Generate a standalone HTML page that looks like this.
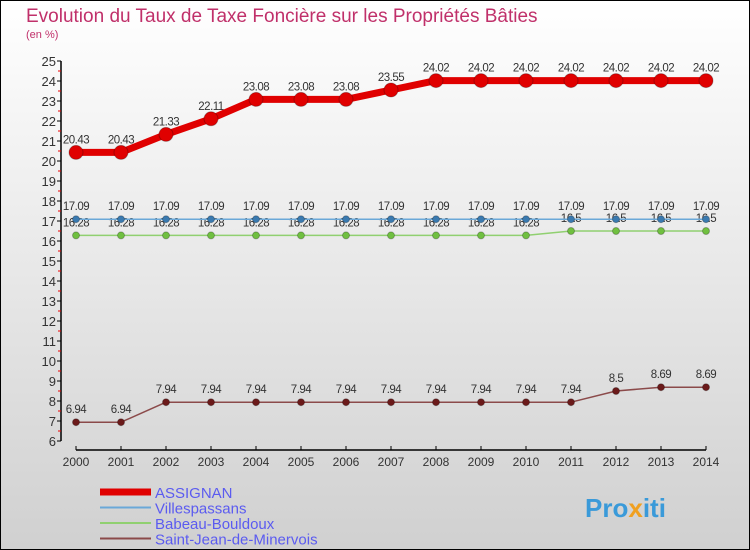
<!DOCTYPE html>
<html><head><meta charset="utf-8"><style>
body{margin:0;width:750px;height:550px;overflow:hidden}
svg{display:block;font-family:"Liberation Sans",sans-serif}
</style></head><body>
<svg id="c" width="750" height="550" xmlns="http://www.w3.org/2000/svg">
<defs><linearGradient id="bg" x1="0" y1="0" x2="0" y2="1"><stop offset="0" stop-color="#ffffff"/><stop offset="1" stop-color="#d0d0d0"/></linearGradient></defs>
<rect x="0.5" y="0.5" width="749" height="549" fill="url(#bg)" stroke="#000"/>
<text x="26" y="22" font-size="19" fill="#c0306a">Evolution du Taux de Taxe Foncière sur les Propriétés Bâties</text>
<text x="26" y="38" font-size="11" fill="#c0306a">(en %)</text>
<g id="axes"></g><g id="series"></g>
<g id="legend"></g>
<text x="585" y="517" font-size="26" font-weight="bold" fill="#3a9ad9">Pro<tspan fill="#f0a020">x</tspan>iti</text>
</svg>
<script>
const years=[2000,2001,2002,2003,2004,2005,2006,2007,2008,2009,2010,2011,2012,2013,2014];
const assignan=[20.43,20.43,21.33,22.11,23.08,23.08,23.08,23.55,24.02,24.02,24.02,24.02,24.02,24.02,24.02];
const villes=[17.09,17.09,17.09,17.09,17.09,17.09,17.09,17.09,17.09,17.09,17.09,17.09,17.09,17.09,17.09];
const babeau=[16.28,16.28,16.28,16.28,16.28,16.28,16.28,16.28,16.28,16.28,16.28,16.5,16.5,16.5,16.5];
const saintjean=[6.94,6.94,7.94,7.94,7.94,7.94,7.94,7.94,7.94,7.94,7.94,7.94,8.5,8.69,8.69];
const yTicks=[6,7,8,9,10,11,12,13,14,15,16,17,18,19,20,21,22,23,24,25];
const NS="http://www.w3.org/2000/svg";
const X=i=>76+i*45, Y=v=>441-(v-6)*20;
function mk(p,t,a){const e=document.createElementNS(NS,t);for(const k in a)e.setAttribute(k,a[k]);p.appendChild(e);return e;}
const ax=document.getElementById('axes');
let l=mk(ax,'line',{x1:61,y1:Y(25),x2:61,y2:Y(6),stroke:'#000','stroke-width':1.5});


l=mk(ax,'line',{x1:76,y1:450,x2:706,y2:450,stroke:'#000','stroke-width':1.5});


yTicks.forEach(v=>{
 mk(ax,'line',{x1:57,y1:Y(v),x2:61,y2:Y(v),stroke:'#000'});
 if(v<25) mk(ax,'line',{x1:58,y1:Y(v+0.5),x2:61,y2:Y(v+0.5),stroke:'#e00'});
 const t=mk(ax,'text',{x:56,y:Y(v)+5,'font-size':13,'text-anchor':'end',fill:'#333'});t.textContent=v;
 
 
});
years.forEach((y,i)=>{
 mk(ax,'line',{x1:X(i),y1:446,x2:X(i),y2:450,stroke:'#000'});
 const t=mk(ax,'text',{x:X(i),y:466,'font-size':12,'text-anchor':'middle',fill:'#333'});t.textContent=y;
 
 
});
const sg=document.getElementById('series');
function series(vals,color,w,r,name,dot){
 const g=mk(sg,'g',{});
 
 
 mk(g,'polyline',{points:vals.map((v,i)=>X(i)+','+Y(v)).join(' '),fill:'none',stroke:color,'stroke-width':w,'stroke-linejoin':'round'});
 vals.forEach((v,i)=>{
  const c=mk(g,'circle',{cx:X(i),cy:Y(v),r:r,fill:dot,stroke:'rgba(0,0,0,0.25)'});
  
  
  const t=mk(g,'text',{x:X(i),y:Y(v)-9,'font-size':11.5,'text-anchor':'middle',fill:'#333','letter-spacing':'-0.5'});t.textContent=v;
  
  
 });
}
series(saintjean,'#8b4a4a',1.5,3.5,'saint-jean-series','#6b1a1a');
series(babeau,'#90d070',1.5,3.5,'babeau-series','#70c040');
series(villes,'#6aa8d8',1.5,3.5,'villespassans-series','#3a7ab0');
series(assignan,'#e00000',7,7,'assignan-series','#e00000');
const lg=document.getElementById('legend');
const names=['ASSIGNAN','Villespassans','Babeau-Bouldoux','Saint-Jean-de-Minervois'];
const cols=['#e00000','#6aa8d8','#90d070','#8b4a4a'];
names.forEach((n,i)=>{
 const y=492+i*15.5;
 const g=mk(lg,'g',{});
 
 
 mk(g,'line',{x1:100,y1:y,x2:151,y2:y,stroke:cols[i],'stroke-width':i==0?7:2});
 const t=mk(g,'text',{x:155,y:y+6,'font-size':15,fill:'#5b5bf0'});t.textContent=n;
});
</script>
</body></html>
